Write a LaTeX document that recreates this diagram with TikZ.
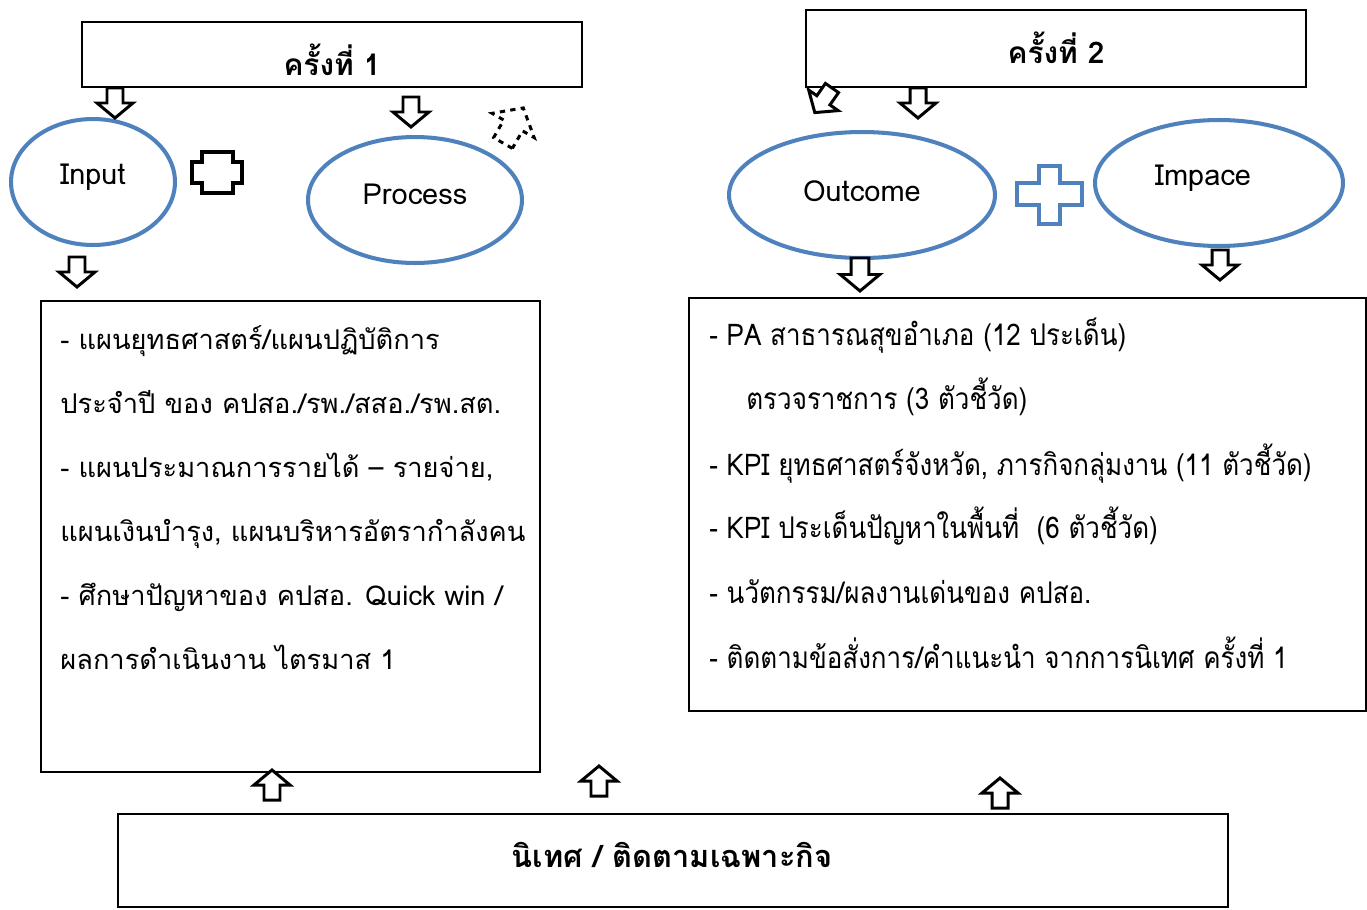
\documentclass[tikz,border=0pt]{standalone}
\usepackage{fontspec}
\setmainfont[Script=Thai]{Loma}
\newfontfamily\thainarrow[Script=Thai,FakeStretch=0.87]{Loma}
\usetikzlibrary{shapes.geometric}
\definecolor{ovalblue}{HTML}{4F81BD}

\tikzset{
    oval/.style={ellipse, draw=ovalblue, line width=2.3pt, inner sep=0pt},
    ovaltext/.style={font=\fontsize{16.5}{19}\selectfont},
    framebox/.style={draw, line width=1.1pt},
    pics/blkarrow/.style={code={
        \draw[line width=1.7pt, fill=white] (-8,0) -- (8,0) -- (8,15) -- (18,15) -- (0,30) -- (-18,15) -- (-8,15) -- cycle;
    }},
}

\begin{document}
\begin{tikzpicture}[x=0.02cm, y=-0.02cm]
    \useasboundingbox (0,0) rectangle (1367,910);

    % Round 1 / round 2 headers
    \draw[framebox] (82,22) rectangle (582,87);
    \node (round1) at (332,60) {\fontsize{17}{20}\selectfont\bfseries ครั้งที่ 1};
    \draw[framebox] (806,10) rectangle (1306,87);
    \node (round2) at (1056,48) {\fontsize{17}{20}\selectfont\bfseries ครั้งที่ 2};

    % Ovals
    \node[oval, minimum width=3.28cm, minimum height=2.52cm] (input) at (93,182) {};
    \node[ovaltext] (inputtxt) at (93,177) {Input};
    \node[oval, minimum width=4.28cm, minimum height=2.52cm] (process) at (415,200) {};
    \node[ovaltext] (processtxt) at (415,194) {Process};
    \node[oval, minimum width=5.32cm, minimum height=2.52cm] (outcome) at (862,195) {};
    \node[ovaltext] (outcometxt) at (862,191) {Outcome};
    \node[oval, minimum width=4.96cm, minimum height=2.52cm] (impace) at (1219,183) {};
    \node[ovaltext] (impacetxt) at (1203,178) {Impace};

    % Plus signs
    \draw[line width=1.8pt] (202,152) -- (233,152) -- (233,162) -- (242,162) -- (242,183) -- (233,183) -- (233,193) -- (202,193) -- (202,183) -- (192,183) -- (192,162) -- (202,162) -- cycle;
    \draw[ovalblue, line width=1.8pt] (1039,166) -- (1060,166) -- (1060,183) -- (1082,183) -- (1082,205) -- (1060,205) -- (1060,224) -- (1039,224) -- (1039,205) -- (1017,205) -- (1017,183) -- (1039,183) -- cycle;

    % Arrows from the headers
    \pic at (115,88) {blkarrow};
    \pic at (411,97) {blkarrow};
    \pic at (918,88) {blkarrow};
    \pic[rotate=-35] at (832,88) {blkarrow};
    \pic[rotate=150, scale=1.35, dashed] at (503,143) {blkarrow};

    % Arrows into the lists
    \pic at (77,257) {blkarrow};
    \pic[scale=1.1] at (860,258) {blkarrow};
    \pic at (1220,250) {blkarrow};

    % Left list
    \draw[framebox] (41,301) rectangle (540,772);
    \begin{scope}[every node/.style={anchor=base west, inner sep=0pt, font=\fontsize{15.5}{19}\selectfont}]
        \node (l1) at (60,349) {- แผนยุทธศาสตร์/แผนปฏิบัติการ};
        \node (l2) at (60,413) {ประจำปี ของ คปสอ./รพ./สสอ./รพ.สต.};
        \node (l3) at (60,477) {- แผนประมาณการรายได้ -- รายจ่าย,};
        \node (l4) at (60,541) {แผนเงินบำรุง, แผนบริหารอัตรากำลังคน};
        \node (l5) at (60,605) {- ศึกษาปัญหาของ คปสอ. Quick win /};
        \node (l6) at (60,669) {ผลการดำเนินงาน ไตรมาส 1};
    \end{scope}

    % Right list
    \draw[framebox] (689,298) rectangle (1366,711);
    \begin{scope}[every node/.style={anchor=base west, inner sep=0pt, font=\fontsize{17}{20}\selectfont\thainarrow}]
        \node (r1) at (709,345) {- PA สาธารณสุขอำเภอ (12 ประเด็น)};
        \node (r2) at (746,409) {ตรวจราชการ (3 ตัวชี้วัด)};
        \node (r3) at (709,475) {- KPI ยุทธศาสตร์จังหวัด, ภารกิจกลุ่มงาน (11 ตัวชี้วัด)};
        \node (r4) at (709,538) {- KPI ประเด็นปัญหาในพื้นที่~ (6 ตัวชี้วัด)};
        \node (r5) at (709,603) {- นวัตกรรม/ผลงานเด่นของ คปสอ.};
        \node (r6) at (709,668) {- ติดตามข้อสั่งการ/คำแนะนำ จากการนิเทศ ครั้งที่ 1};
    \end{scope}

    % Supervision box
    \draw[framebox] (118,814) rectangle (1228,907);
    \node (superv) at (672,855) {\fontsize{17.5}{20}\selectfont\bfseries นิเทศ / ติดตามเฉพาะกิจ};
    \pic[rotate=180] at (272,800) {blkarrow};
    \pic[rotate=180] at (599,796) {blkarrow};
    \pic[rotate=180] at (1000,808) {blkarrow};
\end{tikzpicture}
\end{document}
